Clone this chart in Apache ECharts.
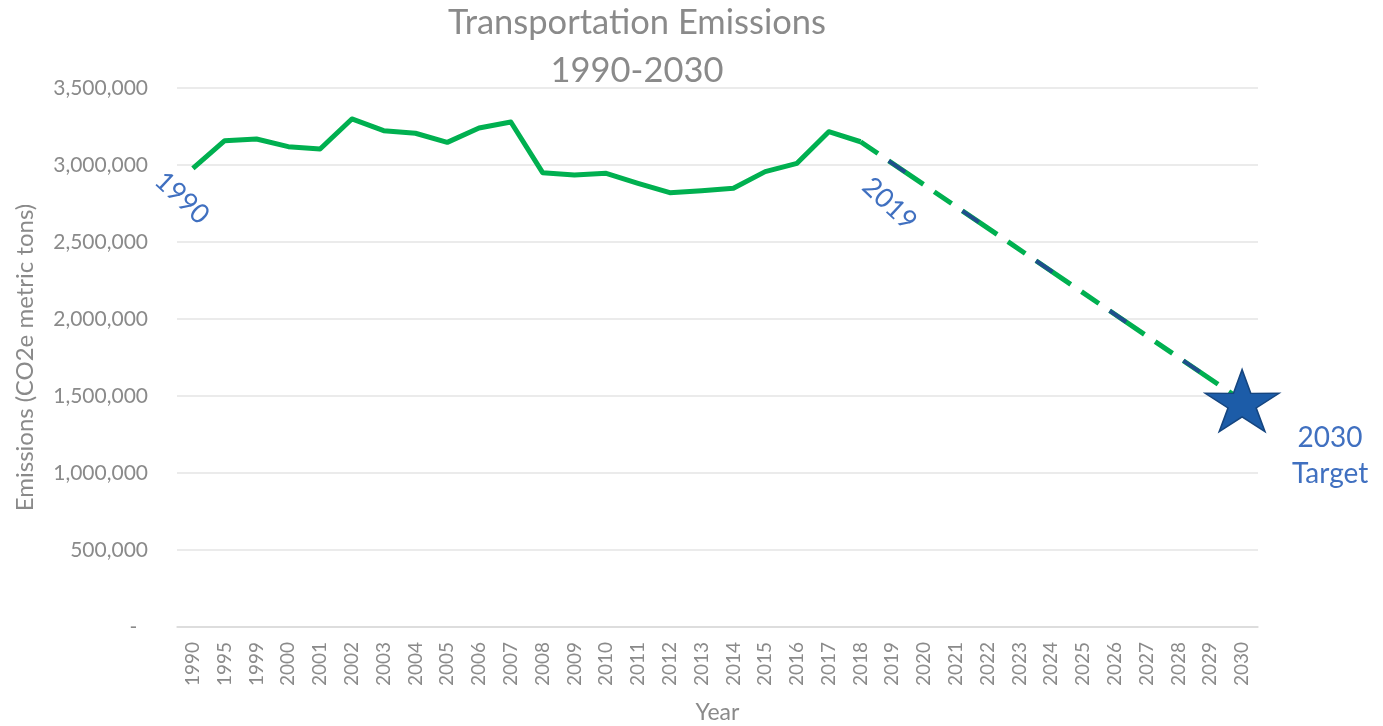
<!DOCTYPE html>
<html>
<head>
<meta charset="utf-8">
<title>Transportation Emissions</title>
<script src="https://cdn.jsdelivr.net/npm/echarts@6/dist/echarts.min.js"></script>
<style>
  html, body { margin: 0; padding: 0; background: #ffffff; }
  #chart { width: 1383px; height: 726px; }
</style>
</head>
<body>
<div id="chart"></div>
<script>
// categories on the x axis (note the gaps 1990 -> 1995 -> 1999)
const years = ['1990', '1995', '1999', '2000', '2001', '2002', '2003', '2004', '2005', '2006',
  '2007', '2008', '2009', '2010', '2011', '2012', '2013', '2014', '2015', '2016', '2017', '2018',
  '2019', '2020', '2021', '2022', '2023', '2024', '2025', '2026', '2027', '2028', '2029', '2030']

// measured emissions, 1990 .. 2018 (CO2e metric tons)
const emissions = [2978000, 3158000, 3169000, 3119000, 3104000, 3299000, 3223000, 3206000,
  3147000, 3240000, 3279000, 2950000, 2935000, 2946000, 2881000, 2820000, 2833000, 2849000,
  2957000, 3011000, 3216000, 3151000]

// projection: last measured year to the 2030 target
const projectionYears = ['2018', '2030']
const projectionValues = [3151000, 1470000]

const targetYear = '2030'
const targetValue = 1470000

// y axis ticks
const yMin = 0
const yMax = 3500000
const yStep = 500000

const FONT = 'Lato'
const GRAY = '#8a8a8a'
const GREEN = '#00b050'
const NOTE_BLUE = '#4070c0'

let chartDom = document.getElementById('chart')
let chart = echarts.init(chartDom)

// pad the series to the full category list
let solidData = years.map((y, i) => i < emissions.length ? emissions[i] : null)
let projData = years.map(y => {
  let k = projectionYears.indexOf(y)
  return k >= 0 ? projectionValues[k] : null
})

// five point star, like the office shape
const starPath = 'path://M50 0 L61.17 34.63 L97.55 34.55 L68.07 55.87 L79.39 90.45 L50 69 ' +
  'L20.61 90.45 L31.93 55.87 L2.45 34.55 L38.83 34.63 Z'

chart.setOption({
  animation: false,
  textStyle: { fontFamily: FONT },
  title: {
    text: 'Transportation Emissions\n1990-2030',
    left: 632,
    top: -6,
    textAlign: 'center',
    textStyle: {
      fontFamily: FONT,
      fontWeight: 'normal',
      fontSize: 34.5,
      lineHeight: 48,
      color: GRAY
    }
  },
  grid: {
    left: 177,
    right: 125,
    top: 88,
    bottom: 99,
    containLabel: false,
    outerBoundsMode: 'none'
  },
  xAxis: {
    type: 'category',
    data: years,
    boundaryGap: true,
    name: 'Year',
    nameLocation: 'middle',
    nameGap: 74,
    nameTextStyle: { color: GRAY, fontSize: 23, fontFamily: FONT },
    axisLine: { lineStyle: { color: '#d9d9d9', width: 1.5 } },
    axisTick: { show: false },
    axisLabel: {
      rotate: 90,
      interval: 0,
      margin: 15,
      color: GRAY,
      fontSize: 19,
      fontFamily: FONT
    }
  },
  yAxis: {
    type: 'value',
    min: yMin,
    max: yMax,
    interval: yStep,
    name: 'Emissions (CO2e metric tons)',
    nameLocation: 'middle',
    nameGap: 140,
    nameTextStyle: { color: GRAY, fontSize: 24, fontFamily: FONT },
    axisLine: { show: false },
    axisTick: { show: false },
    splitLine: { lineStyle: { color: '#e4e4e4', width: 1.5 } },
    axisLabel: {
      margin: 29,
      color: GRAY,
      fontSize: 21,
      fontFamily: FONT,
      formatter: function (v) {
        return v === 0 ? '-  ' : v.toLocaleString('en-US')
      }
    }
  },
  series: [
    {
      name: 'Emissions',
      type: 'line',
      data: solidData,
      symbol: 'none',
      lineStyle: { color: GREEN, width: 5, join: 'round' },
      z: 3,
      markPoint: {
        symbol: 'circle',
        symbolSize: 1,
        itemStyle: { color: 'rgba(0,0,0,0)' },
        label: {
          show: true,
          position: 'inside',
          rotate: -43,
          color: NOTE_BLUE,
          fontSize: 27,
          fontFamily: FONT
        },
        data: [
          { coord: ['1990', 2720000], label: { formatter: '1990', offset: [-15, 0] } },
          { coord: ['2019', 2730000], label: { formatter: '2019', offset: [-4, 0] } }
        ]
      }
    },
    {
      // green dashes of the projection
      name: 'Projection',
      type: 'line',
      data: projData,
      connectNulls: true,
      symbol: 'none',
      lineStyle: { color: GREEN, width: 5, type: [21, 13, 42, 13], cap: 'butt' },
      z: 3
    },
    {
      // dark blue bits sitting on every second dash
      name: 'Projection blue',
      type: 'line',
      data: projData,
      connectNulls: true,
      symbol: 'none',
      lineStyle: { color: '#1f4e8c', width: 4, type: [20, 69], dashOffset: 55, cap: 'butt' },
      z: 4
    },
    {
      name: 'Target',
      type: 'scatter',
      data: [[targetYear, targetValue]],
      symbol: starPath,
      symbolSize: [74, 62],
      itemStyle: { color: '#1c5ca8', borderColor: '#15457f', borderWidth: 1.5, opacity: 1 },
      z: 5,
      label: {
        show: true,
        position: 'inside',
        formatter: '2030\nTarget',
        offset: [88, 55],
        align: 'center',
        color: NOTE_BLUE,
        fontSize: 28,
        lineHeight: 36,
        fontFamily: FONT
      }
    }
  ]
})
</script>
</body>
</html>
